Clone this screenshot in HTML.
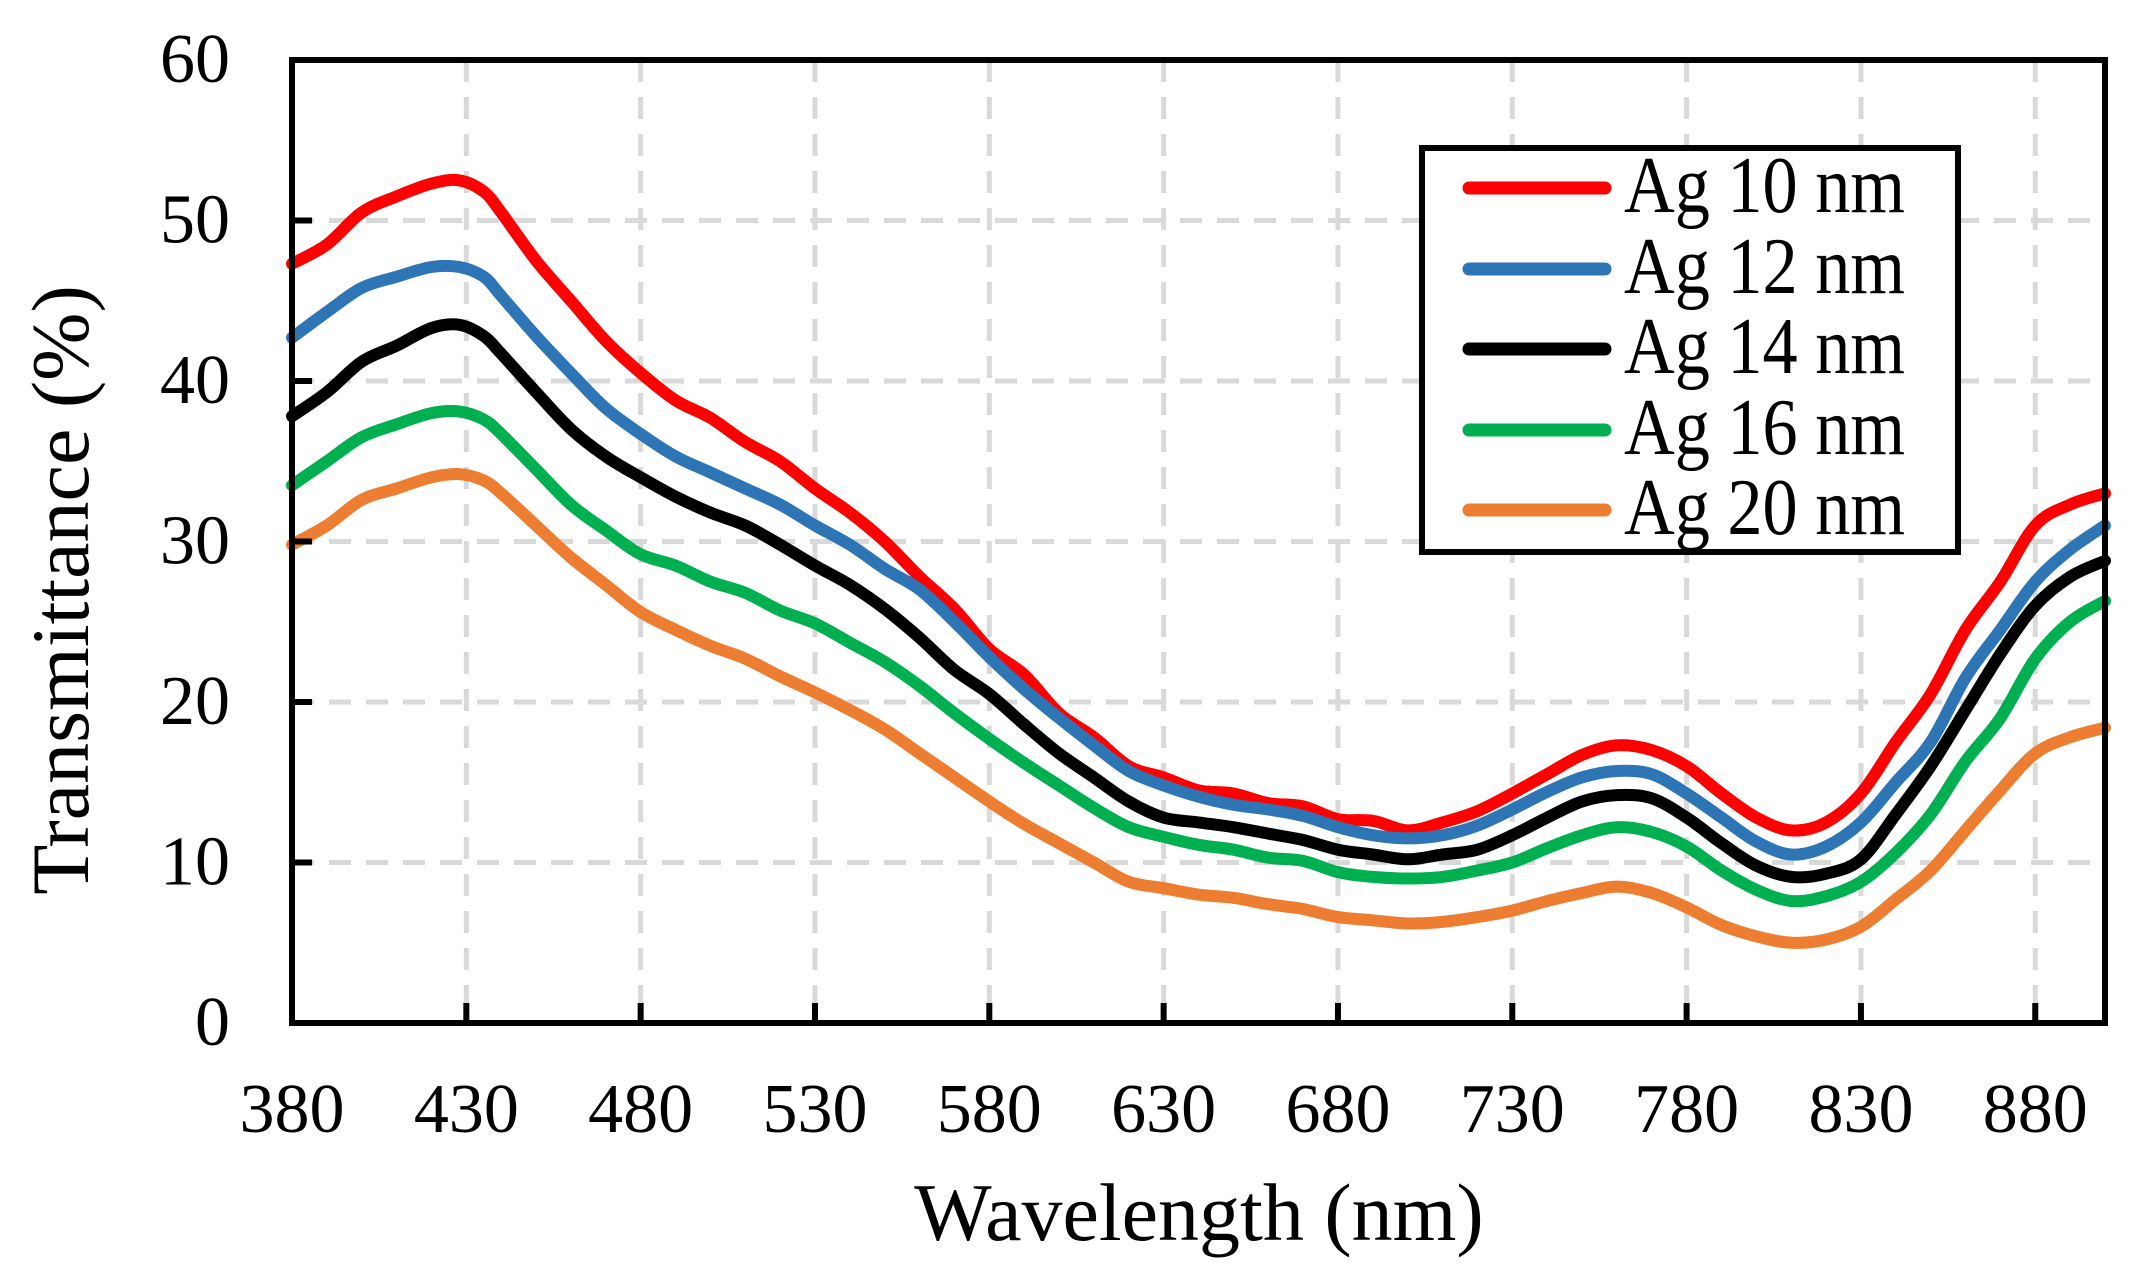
<!DOCTYPE html>
<html><head><meta charset="utf-8"><style>
html,body{margin:0;padding:0;background:#fff;}
svg{display:block;}
text{font-family:"Liberation Serif",serif;fill:#000;}
</style></head><body>
<svg id="s" width="2138" height="1272" viewBox="0 0 2138 1272" xmlns="http://www.w3.org/2000/svg">
<g id="grid" stroke="#d9d9d9" stroke-width="5" stroke-dasharray="22,15" fill="none"></g>
<g id="curves" fill="none" stroke-width="12" stroke-linejoin="round" stroke-linecap="round"></g>
<g id="axes" stroke="#000" stroke-width="6" fill="none"></g>
<g id="labels" font-size="70"></g>
<text x="1199" y="1240" font-size="82" text-anchor="middle">Wavelength (nm)</text>
<text transform="translate(88,590) rotate(-90)" font-size="82" text-anchor="middle">Transmittance (%)</text>
<rect x="1422" y="148" width="536" height="404" fill="#fff" stroke="#000" stroke-width="6"/>
<g stroke-width="13" stroke-linecap="round">
<line x1="1469" y1="188" x2="1605" y2="188" stroke="#ff0000"/>
<line x1="1469" y1="269" x2="1605" y2="269" stroke="#2e75b6"/>
<line x1="1469" y1="349" x2="1605" y2="349" stroke="#000000"/>
<line x1="1469" y1="430" x2="1605" y2="430" stroke="#00b050"/>
<line x1="1469" y1="510" x2="1605" y2="510" stroke="#ed7d31"/>
</g>
<g font-size="80">
<text x="1624" y="212" textLength="281" lengthAdjust="spacingAndGlyphs">Ag 10 nm</text>
<text x="1624" y="293" textLength="281" lengthAdjust="spacingAndGlyphs">Ag 12 nm</text>
<text x="1624" y="373" textLength="281" lengthAdjust="spacingAndGlyphs">Ag 14 nm</text>
<text x="1624" y="454" textLength="281" lengthAdjust="spacingAndGlyphs">Ag 16 nm</text>
<text x="1624" y="534" textLength="281" lengthAdjust="spacingAndGlyphs">Ag 20 nm</text>
</g>
</svg>
<script>
var X0=292,Y0=1023,SX=(2105-292)/520,SY=(1023-60)/60;
function px(w){return X0+(w-380)*SX;}function py(t){return Y0-t*SY;}
var NS="http://www.w3.org/2000/svg";
function el(p,n,a){var e=document.createElementNS(NS,n);for(var k in a)e.setAttribute(k,a[k]);p.appendChild(e);return e;}
var g=document.getElementById('grid'),ax=document.getElementById('axes'),lb=document.getElementById('labels');
for(var t=10;t<=50;t+=10){el(g,'line',{x1:X0,y1:py(t),x2:2105,y2:py(t)});}
for(var w=430;w<=880;w+=50){el(g,'line',{x1:px(w),y1:60,x2:px(w),y2:Y0});}
el(ax,'rect',{x:X0,y:60,width:2105-X0,height:Y0-60});
for(var t=10;t<=50;t+=10){el(ax,'line',{x1:X0,y1:py(t),x2:X0+20,y2:py(t)});}
for(var w=430;w<=880;w+=50){el(ax,'line',{x1:px(w),y1:Y0,x2:px(w),y2:Y0-20});}
for(var t=0;t<=60;t+=10){var e=el(lb,'text',{x:230,y:py(t)+22,'text-anchor':'end'});e.textContent=t;}
for(var w=380;w<=880;w+=50){var e=el(lb,'text',{x:px(w),y:1132,'text-anchor':'middle'});e.textContent=w;}
var W=[380,390,400,410,420,428,435,440,450,460,470,480,490,500,510,520,530,540,550,560,570,580,590,600,610,620,630,640,650,660,670,680,690,700,710,720,730,740,750,760,770,780,790,800,810,820,830,840,850,860,870,880,890,900];
var D={
"#ff0000":[47.3,48.5,50.5,51.5,52.3,52.5,51.8,50.5,47.5,45,42.5,40.5,38.8,37.7,36.2,35,33.3,31.8,30,27.8,25.8,23.3,21.7,19.3,17.8,16,15.3,14.5,14.3,13.7,13.5,12.7,12.6,12,12.5,13.2,14.3,15.5,16.7,17.3,17,16,14.3,12.8,12,12.5,14.3,17.5,20.5,24.5,27.5,31,32.3,33],
"#2e75b6":[42.7,44.3,45.8,46.5,47.1,47.1,46.5,45.3,42.8,40.5,38.3,36.7,35.3,34.3,33.3,32.3,31,29.8,28.3,27,25,22.8,20.8,19,17.3,15.7,14.8,14.1,13.6,13.3,12.9,12.2,11.7,11.5,11.7,12.3,13.3,14.4,15.3,15.7,15.5,14.3,12.8,11.3,10.5,11,12.5,15,17.5,21.5,24.5,27.5,29.5,31],
"#000000":[37.8,39.3,41.2,42.2,43.3,43.5,42.8,41.7,39.3,37,35.3,34,32.8,31.8,31,29.8,28.5,27.3,25.8,24,22,20.5,18.6,16.8,15.3,13.8,12.8,12.5,12.2,11.8,11.4,10.8,10.5,10.2,10.5,10.8,11.7,12.8,13.8,14.2,14,12.8,11.2,9.8,9.1,9.3,10.2,13,16,19.5,23,26,27.8,28.8],
"#00b050":[33.5,35,36.5,37.3,38,38.1,37.6,36.7,34.5,32.3,30.7,29.2,28.5,27.5,26.8,25.7,24.9,23.7,22.5,21,19.3,17.7,16.2,14.8,13.4,12.2,11.6,11.1,10.8,10.3,10.1,9.4,9.1,9,9.1,9.5,10,10.9,11.7,12.2,11.9,11,9.5,8.3,7.6,7.9,8.8,10.6,13,16.3,19,22.7,25,26.3],
"#ed7d31":[29.8,31,32.6,33.3,34,34.2,33.8,33,31,29,27.3,25.6,24.5,23.5,22.7,21.6,20.6,19.5,18.3,16.8,15.3,13.8,12.4,11.2,10,8.8,8.4,8,7.8,7.4,7.1,6.6,6.4,6.2,6.3,6.6,7,7.6,8.1,8.5,8.1,7.2,6.1,5.4,5,5.2,6,7.7,9.5,12,14.5,16.8,17.8,18.4]};
var cg=document.getElementById('curves');
for(var c in D){var v=D[c],P=W.map(function(w,i){return [px(w),py(v[i])];});
var d="M"+P[0][0].toFixed(1)+","+P[0][1].toFixed(1);
for(var i=0;i<P.length-1;i++){var p0=P[i-1]||P[i],p1=P[i],p2=P[i+1],p3=P[i+2]||p2;
var c1=[p1[0]+(p2[0]-p0[0])/6,p1[1]+(p2[1]-p0[1])/6],c2=[p2[0]-(p3[0]-p1[0])/6,p2[1]-(p3[1]-p1[1])/6];
d+=" C"+c1[0].toFixed(1)+","+c1[1].toFixed(1)+" "+c2[0].toFixed(1)+","+c2[1].toFixed(1)+" "+p2[0].toFixed(1)+","+p2[1].toFixed(1);}
el(cg,'path',{d:d,stroke:c});}
</script>
</body></html>
